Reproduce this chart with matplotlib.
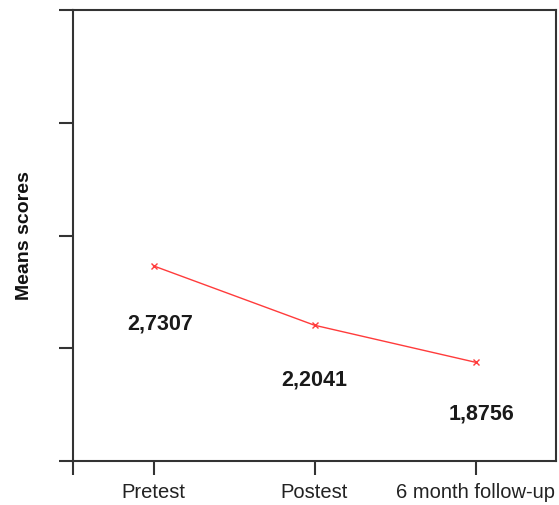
import numpy as np
import matplotlib
matplotlib.use('Agg')
import matplotlib.pyplot as plt

# Data
lstCat = ['Pretest', 'Postest', '6 month follow-up']
vecMean = np.array([2.7307, 2.2041, 1.8756])
lstLbl = ['2,7307', '2,2041', '1,8756']

strFont = 'Liberation Sans'
vecX = np.arange(1, len(lstCat) + 1)

fig01 = plt.figure(figsize=(5.59, 5.05), dpi=100, facecolor='w')
axs = fig01.add_axes([73 / 559, 44 / 505, 483 / 559, 451 / 505])

# Mean scores line
axs.plot(vecX, vecMean, color='#ff3b3b', linewidth=1.0,
         marker='x', markersize=5, markeredgewidth=1.0)

# Value labels below each point
lstOff = [(7, -58), (0, -55), (6, -52)]
for varX, varY, strLbl, tplOff in zip(vecX, vecMean, lstLbl, lstOff):
    axs.annotate(strLbl, xy=(varX, varY), xytext=tplOff,
                 textcoords='offset pixels', ha='center', va='center',
                 fontname=strFont, fontweight='bold', fontsize=15.5,
                 color='#1a1a1a')

axs.set_xlim(0.5, 3.5)
axs.set_ylim(1.0, 5.0)

axs.set_xticks([0.5, 1, 2, 3])
axs.set_xticklabels([''] + lstCat, fontname=strFont, fontsize=14.5,
                    color='#222222')
axs.set_yticks([1, 2, 3, 4, 5])
axs.set_yticklabels([])

axs.tick_params(direction='out', length=10, width=1.5, color='#333333',
                pad=6)
for strSpn in ['top', 'bottom', 'left', 'right']:
    axs.spines[strSpn].set_linewidth(1.5)
    axs.spines[strSpn].set_color('#333333')

axs.set_ylabel('Means scores', fontname=strFont, fontweight='bold',
               fontsize=14, color='#111111')
axs.yaxis.set_label_coords(-40 / 483, 0.5)

fig01.savefig('out.png', dpi=100, facecolor='w')
